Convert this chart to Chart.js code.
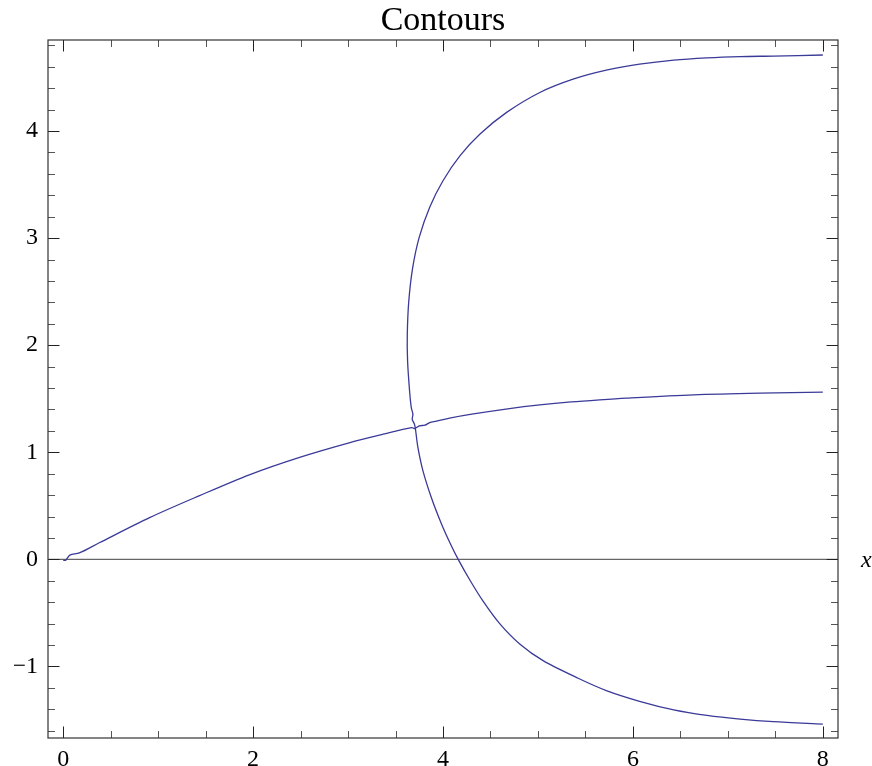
<!DOCTYPE html>
<html><head><meta charset="utf-8">
<script src="https://cdn.jsdelivr.net/npm/chart.js@4"></script>
<style>html,body{margin:0;padding:0;background:#fff}canvas{display:block}</style>
</head><body>
<canvas id="c" width="872" height="766"></canvas>
<script>
// ---- data ----
const xTickValues = [0, 2, 4, 6, 8];
const yTickValues = [-1, 0, 1, 2, 3, 4];

// rising contour from the origin
const curveAX = [0, 0.03, 0.07, 0.17, 0.38, 0.91, 1.43, 1.96, 2.49, 3.02, 3.37, 3.67, 3.70, 3.75, 3.81, 3.86, 3.93, 4.07, 4.32, 4.70, 5.02, 5.35, 5.65, 5.93, 6.64, 7.34, 8.0];
const curveAY = [-0.01, -0.005, 0.04, 0.06, 0.155, 0.39, 0.593, 0.79, 0.953, 1.091, 1.169, 1.231, 1.222, 1.247, 1.253, 1.278, 1.29, 1.319, 1.358, 1.408, 1.442, 1.47, 1.49, 1.506, 1.537, 1.553, 1.562];

// C-shaped contour
const curveBX = [8.0, 7.48, 7.13, 6.78, 6.43, 6.07, 5.72, 5.37, 5.02, 4.67, 4.39, 4.18, 4.0, 3.86, 3.75, 3.68, 3.64, 3.624, 3.627, 3.648, 3.666, 3.683, 3.676, 3.70, 3.71, 3.736, 3.789, 3.877, 3.982, 4.07, 4.16, 4.281, 4.422, 4.597, 4.808, 5.054, 5.423, 5.72, 6.07, 6.43, 6.78, 7.13, 7.48, 8.0];
const curveBY = [4.71, 4.70, 4.695, 4.683, 4.662, 4.624, 4.568, 4.484, 4.36, 4.174, 3.972, 3.77, 3.536, 3.289, 3.009, 2.72, 2.415, 2.105, 1.853, 1.573, 1.417, 1.355, 1.308, 1.261, 1.215, 1.044, 0.827, 0.578, 0.335, 0.16, 0.0, -0.19, -0.39, -0.6, -0.79, -0.946, -1.11, -1.225, -1.325, -1.405, -1.457, -1.492, -1.516, -1.538];

const xMin = -0.16, xMax = 8.16, yMin = -1.668, yMax = 4.85;

const toPts = (xs, ys) => xs.map((x, i) => ({x: x, y: ys[i]}));

const SERIF = '"Liberation Serif", "Times New Roman", serif';
const LINE = 'rgb(58,58,152)';

const framePlugin = {
  id: 'frame',
  beforeDatasetsDraw(chart) {
    const {ctx, chartArea: a, scales: {y}} = chart;
    const y0 = y.getPixelForValue(0);
    ctx.save();
    ctx.strokeStyle = 'rgba(0,0,0,0.6)';
    ctx.lineWidth = 1.4;
    ctx.beginPath();
    ctx.moveTo(a.left, y0);
    ctx.lineTo(a.right, y0);
    ctx.stroke();
    ctx.restore();
  },
  afterDraw(chart) {
    const {ctx, chartArea: a, scales: {x, y}} = chart;
    ctx.save();
    ctx.lineWidth = 1;
    for (let k = 0; k <= 16; k++) {
      const v = k * 0.5;
      const major = k % 4 === 0;
      const len = major ? 11.5 : 7;
      const px = Math.round(x.getPixelForValue(v)) + 0.5;
      ctx.strokeStyle = major ? '#222' : '#555';
      ctx.beginPath();
      ctx.moveTo(px, a.bottom); ctx.lineTo(px, a.bottom - len);
      ctx.moveTo(px, a.top); ctx.lineTo(px, a.top + len);
      ctx.stroke();
    }
    for (let k = -8; k <= 24; k++) {
      const v = k * 0.2;
      const major = k % 5 === 0;
      const len = major ? 11.5 : 7;
      const py = Math.round(y.getPixelForValue(v)) + 0.5;
      ctx.strokeStyle = major ? '#222' : '#555';
      ctx.beginPath();
      ctx.moveTo(a.left, py); ctx.lineTo(a.left + len, py);
      ctx.moveTo(a.right, py); ctx.lineTo(a.right - len, py);
      ctx.stroke();
    }
    ctx.strokeStyle = '#333';
    ctx.lineWidth = 1.2;
    ctx.strokeRect(a.left, a.top, a.right - a.left, a.bottom - a.top);
    ctx.fillStyle = '#000';
    ctx.font = 'italic 24px ' + SERIF;
    ctx.textAlign = 'left';
    ctx.textBaseline = 'alphabetic';
    ctx.fillText('x', 861, y.getPixelForValue(0) + 8);
    ctx.restore();
  }
};

const fmt = v => (v < 0 ? '\u2212' + Math.abs(v) : String(v));

new Chart(document.getElementById('c'), {
  type: 'scatter',
  data: {
    datasets: [
      {data: toPts(curveAX, curveAY), showLine: true, borderColor: LINE, borderWidth: 1.3, pointRadius: 0, tension: 0.3, fill: false},
      {data: toPts(curveBX, curveBY), showLine: true, borderColor: LINE, borderWidth: 1.3, pointRadius: 0, tension: 0.3, fill: false}
    ]
  },
  options: {
    responsive: false,
    animation: false,
    devicePixelRatio: 1,
    layout: {padding: {left: 14, right: 0, top: 0, bottom: 0}},
    plugins: {
      legend: {display: false},
      tooltip: {enabled: false},
      title: {
        display: true, text: 'Contours', color: '#000',
        font: {family: SERIF, size: 34, weight: 'normal', lineHeight: 1},
        padding: {top: 4.5, bottom: 1.5}
      }
    },
    scales: {
      x: {
        type: 'linear', position: 'bottom', min: xMin, max: xMax,
        afterBuildTicks: s => { s.ticks = xTickValues.map(v => ({value: v})); },
        afterFit: s => { s.height = 28; },
        grid: {display: false, drawTicks: false},
        border: {display: false},
        ticks: {color: '#000', font: {family: SERIF, size: 24}, padding: 7, maxRotation: 0, autoSkip: false, callback: fmt}
      },
      y: {
        type: 'linear', position: 'left', min: yMin, max: yMax,
        afterBuildTicks: s => { s.ticks = yTickValues.map(v => ({value: v})); },
        afterFit: s => { s.width = 34; },
        grid: {display: false, drawTicks: false},
        border: {display: false},
        ticks: {color: '#000', font: {family: SERIF, size: 24}, padding: 10, autoSkip: false, callback: fmt}
      },
      yRight: {
        type: 'linear', position: 'right', min: yMin, max: yMax, display: true,
        afterFit: s => { s.width = 34; },
        grid: {display: false, drawTicks: false},
        border: {display: false},
        ticks: {display: false}
      }
    }
  },
  plugins: [framePlugin]
});
</script>
</body></html>
